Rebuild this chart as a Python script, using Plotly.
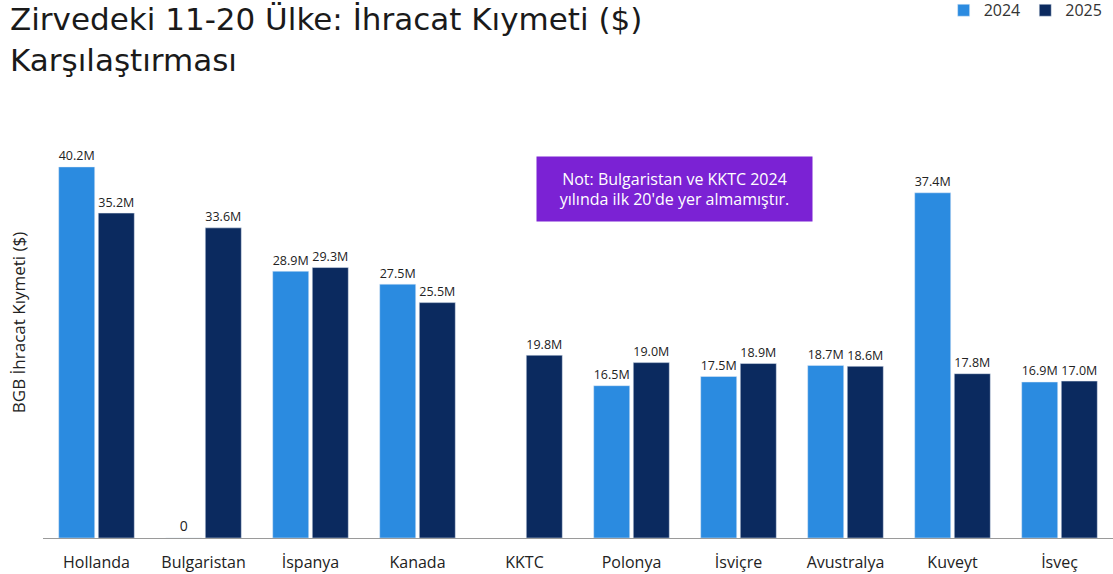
import plotly.graph_objects as go

# values in millions of $
countries = ["Hollanda", "Bulgaristan", "İspanya", "Kanada", "KKTC",
             "Polonya", "İsviçre", "Avustralya", "Kuveyt", "İsveç"]
val_2024 = [40.2, 0, 28.9, 27.5, None, 16.5, 17.5, 18.7, 37.4, 16.9]
val_2025 = [35.2, 33.6, 29.3, 25.5, 19.8, 19.0, 18.9, 18.6, 17.8, 17.0]


def fmt(v):
    if v is None:
        return ""
    if v == 0:
        return "0"
    return f"{v:.1f}M"


label_font = dict(family="Open Sans", size=14, color="#222222")

fig = go.Figure()
fig.add_trace(go.Bar(
    x=countries, y=val_2024, name="2024",
    marker=dict(color="#2b8be0"),
    text=[fmt(v) for v in val_2024], textposition="outside",
    textfont=label_font, cliponaxis=False,
))
fig.add_trace(go.Bar(
    x=countries, y=val_2025, name="2025",
    marker=dict(color="#0b2a5f"),
    text=[fmt(v) for v in val_2025], textposition="outside",
    textfont=label_font, cliponaxis=False,
))

fig.update_layout(
    width=1113, height=574,
    margin=dict(l=43, r=0, t=130, b=36, autoexpand=False),
    paper_bgcolor="white", plot_bgcolor="white",
    barmode="group", bargap=0.26, bargroupgap=0.09,
    font=dict(family="Open Sans", color="#222222"),
    legend=dict(
        orientation="h", x=0.995, xanchor="right",
        y=1.335, yanchor="top",
        font=dict(size=16, color="#333333"),
    ),
    showlegend=True,
    uniformtext=dict(mode=False),
)

fig.update_xaxes(
    showline=True, linecolor="#9a9a9a", linewidth=1,
    tickfont=dict(family="Open Sans", size=16, color="#222222"),
    ticks="", automargin=False, ticklabelstandoff=10,
)
fig.update_yaxes(
    range=[0, 44.2], showticklabels=False, showgrid=False,
    zeroline=False, showline=False, automargin=False,
)

# title, one annotation per line to keep the tight line spacing
title_font = dict(family="DejaVu Sans", size=31, color="#1a1a1a")
fig.add_annotation(
    text="Zirvedeki 11-20 Ülke: İhracat Kıymeti ($)",
    xref="paper", yref="paper", x=-0.0318, y=1.318,
    xanchor="left", yanchor="top", showarrow=False, font=title_font,
    borderpad=0,
)
fig.add_annotation(
    text="Karşılaştırması",
    xref="paper", yref="paper", x=-0.0318, y=1.1716,
    xanchor="left", yanchor="middle", showarrow=False, font=title_font,
    borderpad=0,
)

fig.add_annotation(
    text="BGB İhracat Kıymeti ($)", textangle=-90,
    xref="paper", yref="paper", x=-0.0234, y=0.529,
    xanchor="center", yanchor="middle", showarrow=False,
    font=dict(family="Open Sans", size=17, color="#222222"),
)

fig.add_annotation(
    text="Not: Bulgaristan ve KKTC 2024<br>yılında ilk 20'de yer almamıştır.",
    xref="paper", yref="paper", x=0.59, y=0.8566,
    xanchor="center", yanchor="middle", showarrow=False,
    bgcolor="#7b22d4", borderpad=10, width=255, height=44, align="center",
    font=dict(family="Open Sans", size=16, color="white"),
)

fig.write_html("out.html", config={"displayModeBar": False},
               post_script="document.body.style.margin='0';")
